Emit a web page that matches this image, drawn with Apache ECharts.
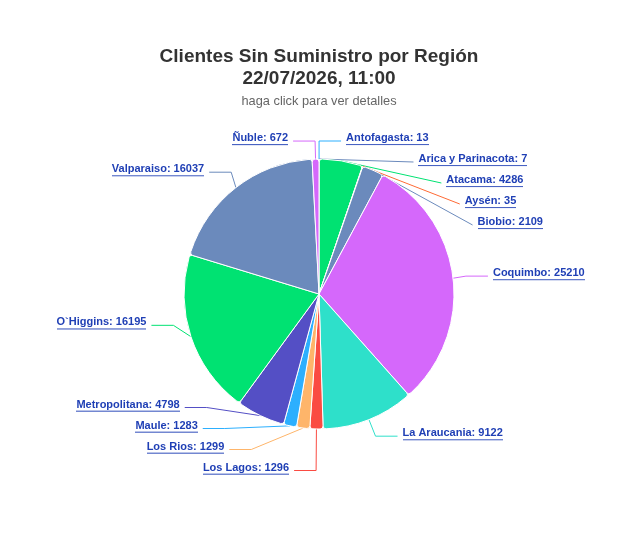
<!DOCTYPE html>
<html>
<head>
<meta charset="utf-8">
<script src="https://cdn.jsdelivr.net/npm/echarts@6/dist/echarts.min.js"></script>
<style>
  html, body { margin: 0; padding: 0; background: #fff; }
  #chart { width: 621px; height: 537px; }
</style>
</head>
<body>
<div id="chart"></div>
<script>
const regions = ['Antofagasta', 'Arica y Parinacota', 'Atacama', 'Aysén', 'Biobio', 'Coquimbo',
  'La Araucania', 'Los Lagos', 'Los Rios', 'Maule', 'Metropolitana', 'O`Higgins', 'Valparaiso', 'Ñuble'];
const clientes = [13, 7, 4286, 35, 2109, 25210, 9122, 1296, 1299, 1283, 4798, 16195, 16037, 672];
const colores = ['#2caffe', '#6b8abc', '#00e272', '#fe6a35', '#6b8abc', '#d568fb',
  '#2ee0ca', '#fa4b42', '#feb56a', '#2caffe', '#544fc5', '#00e272', '#6b8abc', '#d568fb'];

const labelColor = '#1f3fb5';

// underline for the labels (echarts has no text-decoration)
const line = document.createElement('canvas');
line.width = 4;
line.height = 21;
const ctx = line.getContext('2d');
ctx.fillStyle = labelColor;
ctx.fillRect(0, 14, 4, 1);

let myChart = echarts.init(document.getElementById('chart'));
let option = {
  title: {
    text: 'Clientes Sin Suministro por Región\n22/07/2026, 11:00',
    subtext: 'haga click para ver detalles',
    left: 314,
    textAlign: 'center',
    top: 41,
    itemGap: 5,
    textStyle: {
      fontFamily: 'Liberation Sans, Arial',
      fontSize: 19,
      fontWeight: 'bold',
      color: '#333333',
      lineHeight: 22
    },
    subtextStyle: {
      fontFamily: 'Liberation Sans, Arial',
      fontSize: 12.8,
      color: '#666666'
    }
  },
  series: [{
    type: 'pie',
    left: 0,
    top: 0,
    right: 0,
    bottom: 56,
    center: [319, 294],
    radius: 135,
    startAngle: 90,
    clockwise: true,
    avoidLabelOverlap: true,
    minShowLabelAngle: 0,
    itemStyle: { borderColor: '#ffffff', borderWidth: 1, borderRadius: 3 },
    label: {
      formatter: '{u|{b}: {c}}',
      rich: {
        u: {
          fontFamily: 'Liberation Sans, Arial',
          fontSize: 11,
          fontWeight: 'bold',
          color: labelColor,
          lineHeight: 13,
          padding: [1, 0, 7, 0],
          backgroundColor: { image: line }
        }
      }
    },
    labelLine: { length: 18, length2: 22, lineStyle: { width: 1 } },
    data: regions.map((r, i) => ({
      name: r,
      value: clientes[i],
      itemStyle: { color: colores[i] },
      labelLine: { lineStyle: { color: colores[i] } }
    }))
  }]
};
myChart.setOption(option);
</script>
</body>
</html>
